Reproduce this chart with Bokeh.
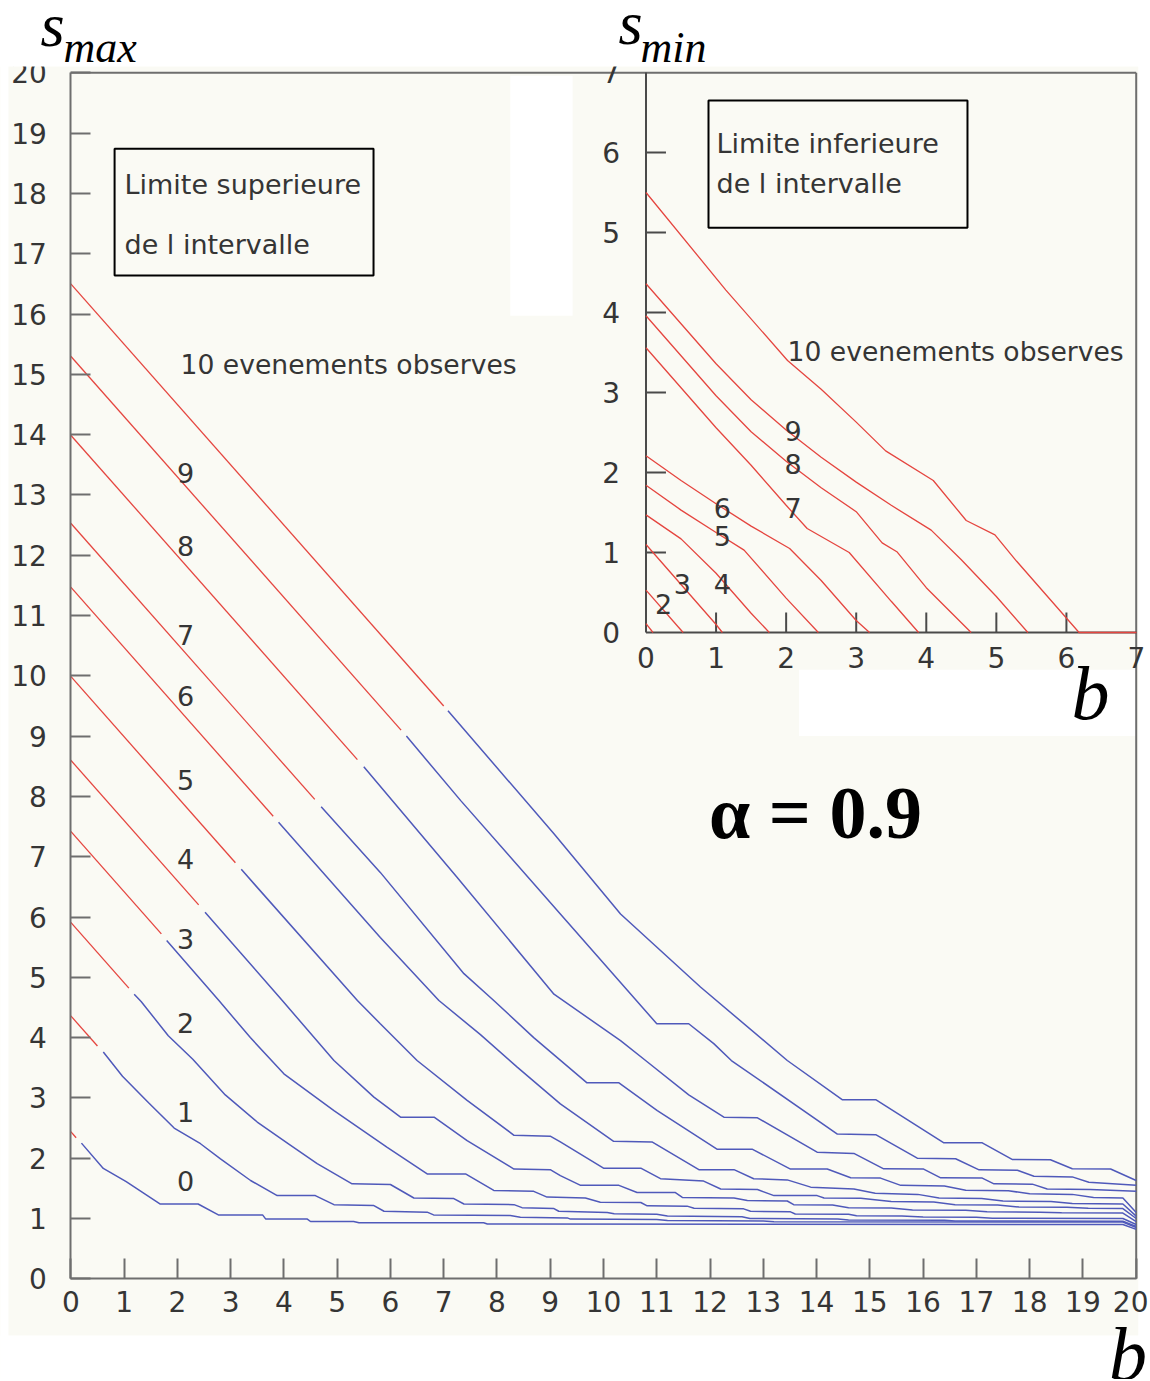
from bokeh.plotting import figure
from bokeh.models import Range1d, FixedTicker
from bokeh.core.properties import value
from bokeh.embed import file_html
from bokeh.resources import INLINE

# ---------------- data ----------------
n_values = [0, 1, 2, 3, 4, 5, 6, 7, 8, 9, 10]
main_ticks = list(range(0, 21))
inset_ticks = list(range(0, 8))

# upper limit s_max: red part (two-sided interval) from b=0 to red_end_b
upper_at_b0 = [2.44, 4.36, 5.91, 7.42, 8.60, 9.99, 11.47, 12.53, 13.99, 15.30, 16.50]
red_end_b = [0.10, 0.50, 1.09, 1.70, 2.40, 3.09, 3.80, 4.58, 5.38, 6.20, 7.00]
red_end_s = [2.34, 3.86, 4.82, 5.72, 6.20, 6.90, 7.67, 7.95, 8.61, 9.10, 9.50]

# upper limit s_max: blue part (upper limit only)
blue0_b = [0.2, 0.61, 1.04, 1.68, 2.39, 2.77, 3.6, 3.66, 4.44, 4.5, 5.31, 5.41, 7.75, 7.82, 19.75, 20.0]
blue0_s = [2.25, 1.83, 1.61, 1.24, 1.24, 1.06, 1.06, 0.99, 0.99, 0.95, 0.95, 0.93, 0.93, 0.91, 0.90, 0.82]
blue1_b = [0.61, 0.97, 1.46, 1.94, 2.435, 2.81, 3.375, 3.875, 4.59, 4.94, 5.69, 5.88, 6.69, 6.81, 8.25, 8.44,
           9.32, 9.38, 11.0, 11.2, 13.0, 13.2, 19.75, 20.0]
blue1_s = [3.76, 3.36, 2.92, 2.5, 2.24, 1.99, 1.63, 1.38, 1.38, 1.23, 1.215, 1.12, 1.105, 1.06, 1.05, 1.02,
           1.01, 0.99, 0.985, 0.965, 0.96, 0.945, 0.94, 0.85]
blue2_b = [1.19, 1.32, 1.83, 2.29, 2.9, 3.5, 4.1, 4.625, 5.28, 6.0, 6.44, 7.19, 7.38, 8.32, 8.47, 9.07, 9.16,
           10.07, 10.2, 11.0, 11.2, 12.6, 12.75, 14.4, 14.6, 16.4, 16.6, 19.75, 20.0]
blue2_s = [4.72, 4.6, 4.03, 3.64, 3.05, 2.6, 2.23, 1.91, 1.575, 1.564, 1.34, 1.33, 1.24, 1.23, 1.18, 1.165, 1.12,
           1.10, 1.08, 1.07, 1.04, 1.03, 1.0, 0.99, 0.975, 0.97, 0.96, 0.955, 0.87]
blue3_b = [1.8, 2.78, 3.37, 4.0, 4.94, 5.94, 6.69, 7.41, 7.94, 8.69, 8.94, 9.66, 9.94, 10.7, 10.82, 11.57, 11.7,
           12.63, 12.76, 13.51, 13.6, 14.6, 14.75, 15.6, 16.0, 17.0, 17.3, 19.75, 20.0]
blue3_s = [5.61, 4.615, 4.0, 3.4, 2.79, 2.18, 1.74, 1.74, 1.465, 1.45, 1.355, 1.34, 1.27, 1.265, 1.21, 1.205, 1.17,
           1.16, 1.12, 1.11, 1.075, 1.07, 1.045, 1.04, 1.025, 1.02, 1.005, 1.0, 0.90]
blue4_b = [2.52, 3.97, 4.94, 5.69, 6.19, 6.82, 7.44, 8.32, 9.0, 9.19, 9.57, 10.29, 10.63, 11.35, 11.48, 12.45,
           12.7, 13.45, 13.57, 14.3, 14.6, 15.4, 15.8, 16.8, 17.2, 18.2, 18.6, 19.75, 20.0]
blue4_s = [6.08, 4.615, 3.62, 3.013, 2.68, 2.68, 2.29, 1.82, 1.81, 1.71, 1.55, 1.55, 1.43, 1.43, 1.35, 1.34,
           1.30, 1.29, 1.23, 1.225, 1.18, 1.175, 1.14, 1.135, 1.11, 1.105, 1.095, 1.09, 0.95]
blue5_b = [3.2, 5.38, 5.81, 6.5, 7.44, 8.32, 9.0, 9.19, 10.0, 10.7, 11.07, 11.88, 12.2, 12.89, 13.2, 14.01, 14.14,
           14.83, 15.4, 16.2, 16.6, 17.4, 17.8, 18.7, 19.1, 19.75, 20.0]
blue5_s = [6.79, 4.615, 4.23, 3.62, 2.96, 2.38, 2.365, 2.27, 1.835, 1.835, 1.66, 1.62, 1.49, 1.48, 1.38, 1.38, 1.34,
           1.335, 1.28, 1.275, 1.23, 1.225, 1.19, 1.185, 1.17, 1.165, 1.0]
blue6_b = [3.9, 5.81, 6.91, 7.69, 8.38, 9.19, 10.19, 10.91, 11.79, 12.45, 12.82, 13.45, 13.89, 14.7, 15.1, 15.9,
           16.3, 17.1, 17.5, 18.4, 18.8, 19.75, 20.0]
blue6_s = [7.57, 5.66, 4.615, 4.05, 3.51, 2.9, 2.28, 2.27, 1.81, 1.81, 1.66, 1.64, 1.52, 1.49, 1.42, 1.40,
           1.34, 1.33, 1.29, 1.28, 1.25, 1.24, 1.04]
blue7_b = [4.7, 5.81, 7.38, 7.94, 8.69, 9.69, 10.29, 11.01, 12.13, 12.79, 13.51, 14.2, 14.64, 15.2, 15.58, 16.4,
           16.8, 17.6, 18.0, 18.8, 19.2, 19.75, 20.0]
blue7_s = [7.83, 6.74, 5.06, 4.615, 4.0, 3.25, 3.25, 2.79, 2.15, 2.15, 1.82, 1.82, 1.675, 1.67, 1.55, 1.54,
           1.47, 1.46, 1.41, 1.40, 1.35, 1.34, 1.10]
blue8_b = [5.5, 7.25, 9.07, 10.32, 10.79, 11.6, 12.26, 12.89, 14.01, 14.7, 15.26, 16.01, 16.33, 17.11, 17.33,
           18.05, 18.33, 19.14, 20.0]
blue8_s = [8.49, 6.66, 4.72, 3.95, 3.62, 3.05, 2.68, 2.67, 2.10, 2.08, 1.824, 1.82, 1.675, 1.67, 1.575,
           1.57, 1.49, 1.48, 1.45]
blue9_b = [6.3, 7.32, 9.19, 11.0, 11.6, 12.07, 12.4, 14.39, 15.11, 15.89, 16.61, 17.05, 17.77, 18.08, 18.8,
           19.11, 20.0]
blue9_s = [9.0, 7.93, 6.05, 4.23, 4.23, 3.9, 3.62, 2.40, 2.39, 2.0, 1.99, 1.807, 1.80, 1.70, 1.69, 1.60, 1.55]
blue10_b = [7.08, 9.07, 10.32, 11.82, 13.45, 14.48, 15.11, 16.39, 17.11, 17.67, 18.39, 18.8, 19.52, 20.0]
blue10_s = [9.42, 7.38, 6.05, 4.84, 3.62, 2.97, 2.97, 2.255, 2.255, 1.979, 1.975, 1.824, 1.82, 1.63]

blue_b = [blue0_b, blue1_b, blue2_b, blue3_b, blue4_b, blue5_b, blue6_b, blue7_b, blue8_b, blue9_b, blue10_b]
blue_s = [blue0_s, blue1_s, blue2_s, blue3_s, blue4_s, blue5_s, blue6_s, blue7_s, blue8_s, blue9_s, blue10_s]

# lower limit s_min (inset)
low1_b = [0, 0.1]
low1_s = [0.11, 0]
low2_b = [0, 0.53]
low2_s = [0.53, 0]
low3_b = [0, 0.5, 1.0, 1.09]
low3_s = [1.10, 0.60, 0.10, 0]
low4_b = [0, 0.5, 1.0, 1.5, 1.76]
low4_s = [1.47, 1.17, 0.74, 0.24, 0]
low5_b = [0, 0.5, 1.0, 1.4, 2.0, 2.46]
low5_s = [1.84, 1.53, 1.25, 1.03, 0.43, 0]
low6_b = [0, 0.5, 1.0, 1.5, 2.05, 2.5, 3.0, 3.19]
low6_s = [2.21, 1.90, 1.61, 1.33, 1.05, 0.65, 0.15, 0]
low7_b = [0, 0.5, 1.0, 1.5, 2.0, 2.3, 2.9, 3.5, 3.89]
low7_s = [3.56, 3.06, 2.56, 2.09, 1.59, 1.30, 1.0, 0.39, 0]
low8_b = [0, 0.5, 1.0, 1.5, 2.0, 2.5, 3.0, 3.37, 3.58, 4.0, 4.64]
low8_s = [3.96, 3.46, 2.96, 2.51, 2.14, 1.81, 1.51, 1.12, 1.01, 0.56, 0]
low9_b = [0, 0.5, 1.0, 1.5, 2.0, 2.5, 3.0, 3.5, 4.07, 4.5, 5.0, 5.45]
low9_s = [4.36, 3.86, 3.36, 2.91, 2.53, 2.19, 1.88, 1.59, 1.28, 0.91, 0.45, 0]
low10_b = [0, 1.14, 2.02, 2.5, 3.0, 3.42, 4.1, 4.57, 4.98, 5.29, 6.18, 7.0]
low10_s = [5.5, 4.28, 3.4, 3.04, 2.63, 2.27, 1.9, 1.4, 1.22, 0.89, 0, 0]
low_b = [low1_b, low2_b, low3_b, low4_b, low5_b, low6_b, low7_b, low8_b, low9_b, low10_b]
low_s = [low1_s, low2_s, low3_s, low4_s, low5_s, low6_s, low7_s, low8_s, low9_s, low10_s]

# curve labels
main_lab_text = ["9", "8", "7", "6", "5", "4", "3", "2", "1", "0"]
main_lab_b = [2.155] * 10
main_lab_s = [13.37, 12.16, 10.67, 9.67, 8.27, 6.97, 5.64, 4.25, 2.76, 1.63]
inset_lab_text = ["9", "8", "7", "6", "5", "4", "3", "2"]
inset_lab_b = [2.10, 2.10, 2.10, 1.09, 1.09, 1.09, 0.52, 0.25]
inset_lab_s = [2.525, 2.11, 1.56, 1.56, 1.21, 0.61, 0.61, 0.36]

# ---------------- style ----------------
CREAM = "#fafaf4"
RED = "#e5453f"
BLUE = "#4f59ba"
GRAY = "#6e6e6e"
DARK = "#4a4a4a"
TXT = "#353535"
SANS = "DejaVu Sans"
SERIF = "Liberation Serif"

W, H = 1148, 1379
# main scale: b=0 at x=70.3 px, 53.27 px per unit; s=0 at y=1278.3 px, 60.3 px per unit
p = figure(width=W, height=H,
           x_range=Range1d(-70.3 / 53.27, (W - 70.3) / 53.27),
           y_range=Range1d(-(H - 1278.3) / 60.3, 1278.3 / 60.3),
           output_backend="svg", toolbar_location=None,
           min_border_left=0, min_border_right=0, min_border_top=0, min_border_bottom=0)
# inset scale: b=0 at x=645.5 px, 70.07 px per unit; s=0 at y=632 px, 80 px per unit
p.extra_x_ranges = {"ix": Range1d(-645.5 / 70.07, (W - 645.5) / 70.07)}
p.extra_y_ranges = {"iy": Range1d(-(H - 632) / 80.0, 632 / 80.0)}
p.grid.visible = False
p.background_fill_color = CREAM
p.border_fill_color = CREAM
p.outline_line_color = None

for ax in (p.xaxis[0], p.yaxis[0]):
    ax.fixed_location = 0
    ax.bounds = (0, 20)
    ax.ticker = FixedTicker(ticks=main_ticks)
    ax.major_tick_in = 20
    ax.major_tick_out = 0
    ax.minor_tick_line_color = None
    ax.axis_line_color = GRAY
    ax.axis_line_width = 2
    ax.major_tick_line_color = GRAY
    ax.major_tick_line_width = 2
    ax.major_label_text_font = SANS
    ax.major_label_text_font_size = "28px"
    ax.major_label_text_color = TXT
p.yaxis[0].major_label_standoff = 24
p.xaxis[0].major_label_standoff = 12

# white areas of the scanned page
p.quad(left=[-1.4, 20.04, 8.25, 13.67, -1.4], right=[-1.17, 20.4, 9.42, 20.0, 20.4],
       top=[21.3, 21.3, 19.95, 10.1, -0.94], bottom=[-1.8, -1.8, 15.97, 9.0, -1.8],
       fill_color="white", line_color=None)

# frame top and right border
p.segment(x0=[0, 20], y0=[20, 0], x1=[20, 20], y1=[20, 20], line_color=GRAY, line_width=2)

# ---- main upper-limit curves ----
for n in n_values:
    p.line([0, red_end_b[n]], [upper_at_b0[n], red_end_s[n]], line_color=RED, line_width=1.3)
    p.line(blue_b[n], blue_s[n], line_color=BLUE, line_width=1.5)

# legend box and texts (main)
p.quad(left=[0.822], right=[5.683], top=[18.74], bottom=[16.64], fill_color=None,
       line_color="black", line_width=2)
p.text(x=[1.008, 1.008], y=[18.15, 17.15], text=["Limite superieure", "de l intervalle"],
       text_font=value(SANS), text_font_size="27px", text_color=TXT,
       text_align="left", text_baseline="middle")
p.text(x=[2.06], y=[15.16], text=["10 evenements observes"], text_font=value(SANS),
       text_font_size="26.6px", text_color=TXT, text_align="left", text_baseline="middle")
p.text(x=main_lab_b, y=main_lab_s, text=main_lab_text, text_font=value(SANS),
       text_font_size="27px", text_color=TXT, text_align="center", text_baseline="middle")

# ---- inset: lower limits ----
R = dict(x_range_name="ix", y_range_name="iy")
p.segment(x0=[0, 0], y0=[0, 0], x1=[0, 7], y1=[7, 0], line_color=DARK, line_width=2, **R)
p.segment(x0=[0] * 6, y0=inset_ticks[1:7], x1=[0.285] * 6, y1=inset_ticks[1:7],
          line_color=DARK, line_width=2, **R)
p.segment(x0=inset_ticks[1:7], y0=[0] * 6, x1=inset_ticks[1:7], y1=[0.25] * 6,
          line_color=DARK, line_width=2, **R)
p.text(x=[-0.37] * 8, y=inset_ticks, text=[str(t) for t in inset_ticks], text_font=value(SANS),
       text_font_size="28px", text_color=TXT, text_align="right", text_baseline="middle", **R)
p.text(x=inset_ticks, y=[-0.31] * 8, text=[str(t) for t in inset_ticks], text_font=value(SANS),
       text_font_size="28px", text_color=TXT, text_align="center", text_baseline="middle", **R)

for lb, ls in zip(low_b, low_s):
    p.line(lb, ls, line_color=RED, line_width=1.3, **R)

p.quad(left=[0.892], right=[4.588], top=[6.65], bottom=[5.06], fill_color=None,
       line_color="black", line_width=2, **R)
p.text(x=[1.006, 1.006], y=[6.11, 5.61], text=["Limite inferieure", "de l intervalle"],
       text_font=value(SANS), text_font_size="27px", text_color=TXT,
       text_align="left", text_baseline="middle", **R)
p.text(x=[2.02], y=[3.51], text=["10 evenements observes"], text_font=value(SANS),
       text_font_size="26.6px", text_color=TXT, text_align="left", text_baseline="middle", **R)
p.text(x=inset_lab_b, y=inset_lab_s, text=inset_lab_text, text_font=value(SANS),
       text_font_size="27px", text_color=TXT, text_align="center", text_baseline="middle", **R)

# alpha and the b labels
p.text(x=[13.98], y=[7.73], text=["α = 0.9"], text_font=value(SERIF), text_font_style="bold",
       text_font_size="74px", text_color="black", text_align="center", text_baseline="middle")
p.text(x=[19.14, 19.846], y=[9.72, -1.239], text=["b", "b"], text_font=value(SERIF),
       text_font_style="italic", text_font_size="76px", text_color="black",
       text_align="center", text_baseline="middle")

# white strip at the top of the page, which hides the top of "20" and "7"
p.quad(left=[-1.4], right=[20.4], top=[21.3], bottom=[20.104], fill_color="white",
       line_color=None, level="overlay")
p.text(x=[-0.569, 10.28], y=[20.80, 20.83], text=["s", "s"], text_font=value(SERIF),
       text_font_style="italic", text_font_size="62px", text_color="black",
       text_align="left", text_baseline="middle", level="overlay")
p.text(x=[-0.137, 10.694], y=[20.418, 20.418], text=["max", "min"], text_font=value(SERIF),
       text_font_style="italic", text_font_size="44px", text_color="black",
       text_align="left", text_baseline="middle", level="overlay")

open("out.html", "w").write(file_html(p, INLINE))
